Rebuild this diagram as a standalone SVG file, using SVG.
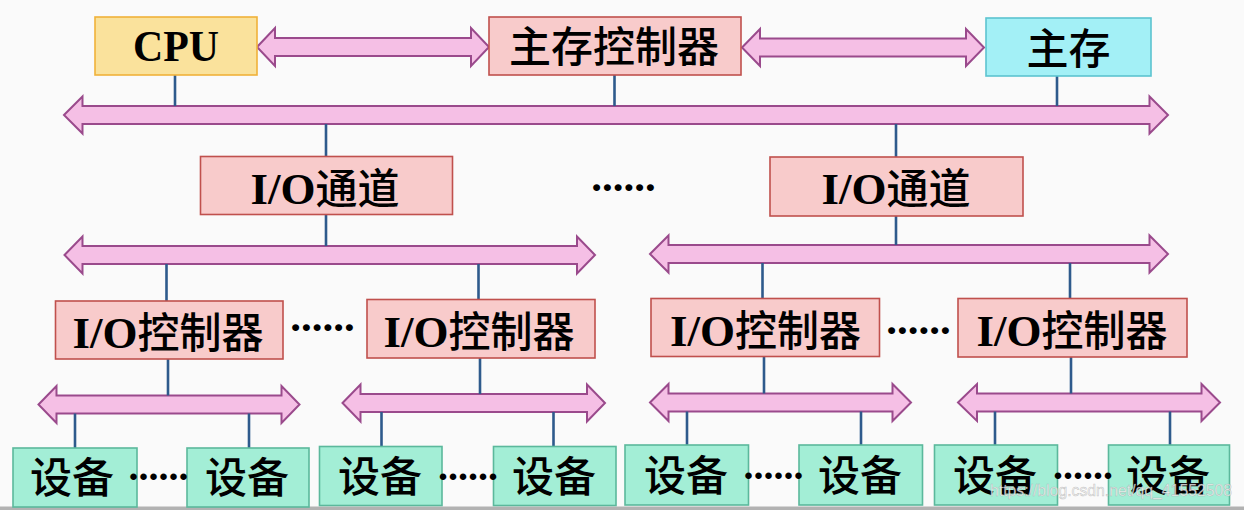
<svg xmlns="http://www.w3.org/2000/svg" width="1244" height="510" viewBox="0 0 1244 510">
<style>
.bus{fill:#F5BFE5;stroke:#9A4A8C;stroke-width:2;stroke-linejoin:miter}
.ln{stroke:#2E5A8C;stroke-width:2.6;fill:none}
.pk{fill:#F8CBCB;stroke:#C0504D;stroke-width:1.6}
.dv{fill:#A3EED6;stroke:#5BB89C;stroke-width:1.6}
.cpu{fill:#FAE29C;stroke:#F0B23A;stroke-width:1.6}
.mem{fill:#A3F0F6;stroke:#5CC4D0;stroke-width:1.6}
.t{font-family:"Noto Sans CJK SC","Noto Sans",sans-serif;font-size:42px;font-weight:500;fill:#000;text-anchor:middle}
.lat{font-family:"Liberation Serif","Times New Roman",serif;font-weight:bold;font-size:45px}
.dots{font-family:"Liberation Serif","Times New Roman",serif;font-weight:bold;font-size:43px;fill:#000;text-anchor:middle}
.dd{font-size:40px}
</style>
<rect x="0" y="0" width="1244" height="510" fill="#FAFAFA"/>
<rect x="0" y="506.5" width="1244" height="3.5" fill="#B2B2B2"/>

<g id="connectors">
<path class="bus" d="M257,47 L275,28 L275,38 L471,38 L471,28 L489,47 L471,66 L471,56 L275,56 L275,66 Z"/>
<path class="bus" d="M742,47.5 L760,29 L760,38.5 L966,38.5 L966,29 L984,47.5 L966,66 L966,56.5 L760,56.5 L760,66 Z"/>
<path class="bus" d="M64,115 L82.5,96.5 L82.5,106 L1149.5,106 L1149.5,96.5 L1168,115 L1149.5,133.5 L1149.5,124 L82.5,124 L82.5,133.5 Z"/>
<path class="bus" d="M64.5,255 L82.5,236.5 L82.5,246 L577,246 L577,236.5 L595,255 L577,273.5 L577,264 L82.5,264 L82.5,273.5 Z"/>
<path class="bus" d="M650,254 L668.5,235.5 L668.5,245 L1149.5,245 L1149.5,235.5 L1168,254 L1149.5,272.5 L1149.5,263 L668.5,263 L668.5,272.5 Z"/>
<path class="bus" d="M38.5,404.5 L56.5,386 L56.5,395.5 L281.5,395.5 L281.5,386 L299.5,404.5 L281.5,423 L281.5,413.5 L56.5,413.5 L56.5,423 Z"/>
<path class="bus" d="M342.5,403 L360.5,384.5 L360.5,394 L587,394 L587,384.5 L605,403 L587,421.5 L587,412 L360.5,412 L360.5,421.5 Z"/>
<path class="bus" d="M650,402.5 L668.5,384 L668.5,393.5 L892.5,393.5 L892.5,384 L911,402.5 L892.5,421 L892.5,411.5 L668.5,411.5 L668.5,421 Z"/>
<path class="bus" d="M958,402.5 L977,384 L977,393.5 L1201.5,393.5 L1201.5,384 L1220,402.5 L1201.5,421 L1201.5,411.5 L977,411.5 L977,421 Z"/>

<line class="ln" x1="175" y1="75" x2="175" y2="106"/>
<line class="ln" x1="614.5" y1="75" x2="614.5" y2="106"/>
<line class="ln" x1="1057" y1="76" x2="1057" y2="106"/>
<line class="ln" x1="326" y1="124" x2="326" y2="157"/>
<line class="ln" x1="896" y1="124" x2="896" y2="157"/>
<line class="ln" x1="326" y1="214" x2="326" y2="246"/>
<line class="ln" x1="896" y1="216" x2="896" y2="245"/>
<line class="ln" x1="166.5" y1="264" x2="166.5" y2="301"/>
<line class="ln" x1="478.5" y1="264" x2="478.5" y2="299.5"/>
<line class="ln" x1="762.5" y1="263" x2="762.5" y2="298.5"/>
<line class="ln" x1="1070" y1="263" x2="1070" y2="298.5"/>
<line class="ln" x1="168" y1="359" x2="168" y2="395.5"/>
<line class="ln" x1="480" y1="358" x2="480" y2="394"/>
<line class="ln" x1="764" y1="357" x2="764" y2="393.5"/>
<line class="ln" x1="1071" y1="357" x2="1071" y2="393.5"/>
<line class="ln" x1="75" y1="413.5" x2="75" y2="448"/>
<line class="ln" x1="249" y1="413.5" x2="249" y2="448"/>
<line class="ln" x1="381.5" y1="412" x2="381.5" y2="446.5"/>
<line class="ln" x1="553.5" y1="412" x2="553.5" y2="446.5"/>
<line class="ln" x1="687" y1="411.5" x2="687" y2="445"/>
<line class="ln" x1="861" y1="411.5" x2="861" y2="445"/>
<line class="ln" x1="995" y1="411.5" x2="995" y2="445"/>
<line class="ln" x1="1170" y1="411.5" x2="1170" y2="445"/>
</g>

<g id="cpu"><rect class="cpu" x="95" y="17" width="162" height="58"/>
<text class="t lat" x="176" y="61" textLength="86" lengthAdjust="spacingAndGlyphs">CPU</text></g>
<g id="mem-ctrl"><rect class="pk" x="489" y="17" width="252" height="58"/>
<text class="t" x="614" y="62">主存控制器</text></g>
<g id="mem"><rect class="mem" x="986" y="18" width="165" height="58"/>
<text class="t" x="1068.5" y="63.5">主存</text></g>

<g id="ch1"><rect class="pk" x="200.5" y="156.5" width="252" height="58"/>
<text class="t" x="325" y="203.5"><tspan class="lat">I/O</tspan>通道</text></g>
<g id="ch2"><rect class="pk" x="770" y="157" width="253" height="59"/>
<text class="t" x="896" y="204"><tspan class="lat">I/O</tspan>通道</text></g>
<text id="dots-ch" class="dots" x="623.5" y="190.5">......</text>

<g id="ctrl1"><rect class="pk" x="55.5" y="301" width="227.5" height="58"/>
<text class="t" x="168" y="347.5"><tspan class="lat">I/O</tspan>控制器</text></g>
<g id="ctrl2"><rect class="pk" x="367" y="299.5" width="228" height="58.5"/>
<text class="t" x="479" y="346.5"><tspan class="lat">I/O</tspan>控制器</text></g>
<g id="ctrl3"><rect class="pk" x="651" y="298.5" width="228.5" height="58"/>
<text class="t" x="765.5" y="345.5"><tspan class="lat">I/O</tspan>控制器</text></g>
<g id="ctrl4"><rect class="pk" x="958" y="298.5" width="229" height="58.5"/>
<text class="t" x="1072" y="345.5"><tspan class="lat">I/O</tspan>控制器</text></g>
<text class="dots" x="322.5" y="331">......</text>
<text class="dots" x="918.5" y="334">......</text>

<g id="dev1"><rect class="dv" x="13" y="448" width="124" height="59"/><text class="t" x="72" y="492.5">设备</text></g>
<g id="dev2"><rect class="dv" x="187" y="448" width="122" height="59"/><text class="t" x="247" y="492.5">设备</text></g>
<g id="dev3"><rect class="dv" x="319.5" y="446.5" width="122.5" height="59"/><text class="t" x="380" y="491.5">设备</text></g>
<g id="dev4"><rect class="dv" x="493.5" y="446.5" width="122.5" height="59"/><text class="t" x="554" y="491.5">设备</text></g>
<g id="dev5"><rect class="dv" x="625" y="445" width="123.5" height="60"/><text class="t" x="686" y="491">设备</text></g>
<g id="dev6"><rect class="dv" x="799" y="445" width="123.5" height="60"/><text class="t" x="860" y="491">设备</text></g>
<g id="dev7"><rect class="dv" x="934.5" y="445" width="123" height="60"/><text class="t" x="995" y="491">设备</text></g>
<g id="dev8"><rect class="dv" x="1108.5" y="445" width="121" height="60"/><text class="t" x="1168" y="491">设备</text></g>
<text class="dots dd" x="158.5" y="480">......</text>
<text class="dots dd" x="468" y="479.5">......</text>
<text class="dots dd" x="773.5" y="479">......</text>
<text class="dots dd" x="1083" y="479">......</text>

<text x="990" y="496" font-family="Liberation Sans,Arial,sans-serif" font-size="16" textLength="242" lengthAdjust="spacingAndGlyphs" fill="#F4F4F4" fill-opacity="0.85" stroke="#9A9A9A" stroke-width="0.5" stroke-opacity="0.6">https://blog.csdn.net/qq_41552508</text>
</svg>
